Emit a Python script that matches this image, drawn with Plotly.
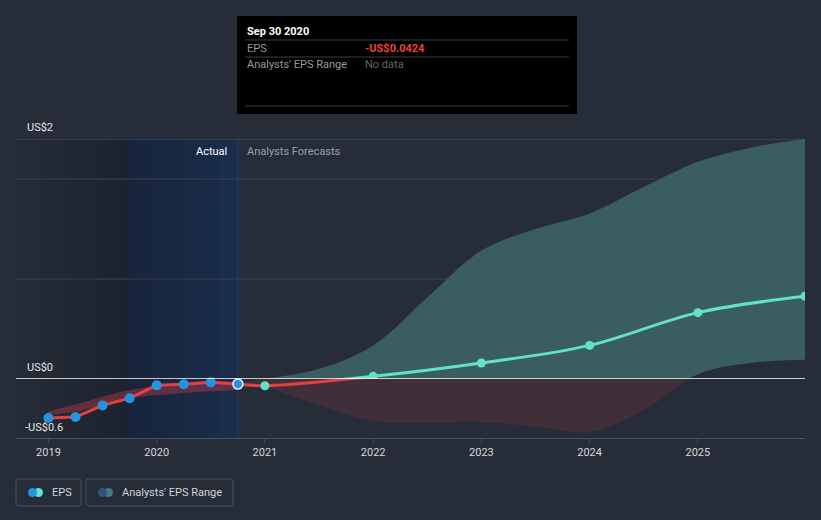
import plotly.graph_objects as go
from plotly.subplots import make_subplots

# ---------------- data ----------------
actual_x = [2019.0, 2019.25, 2019.5, 2019.75, 2020.0, 2020.25, 2020.5, 2020.75]
actual_eps = [-0.325, -0.317, -0.22, -0.16, -0.053, -0.044, -0.028, -0.0424]

fc_x = [2020.75, 2021.0, 2022.0, 2023.0, 2024.0, 2025.0, 2025.99]
fc_eps = [-0.0424, -0.056, 0.022, 0.133, 0.28, 0.553, 0.69]

act_band_x = [2019.0, 2019.3, 2019.75, 2020.2, 2020.75]
act_band_hi = [-0.27, -0.20, -0.092, -0.042, -0.023]
act_band_lo = [-0.30, -0.265, -0.16, -0.12, -0.092]

band_x = [2020.75, 2021.0, 2021.5, 2022.0, 2022.5, 2023.0, 2023.5, 2024.0, 2024.5, 2025.0, 2025.5, 2025.99]
band_hi = [-0.035, 0.0, 0.085, 0.28, 0.68, 1.07, 1.25, 1.38, 1.6, 1.81, 1.93, 2.0]
band_lo = [-0.035, -0.07, -0.22, -0.35, -0.365, -0.36, -0.395, -0.44, -0.26, 0.04, 0.135, 0.16]

year_ticks = [2019, 2020, 2021, 2022, 2023, 2024, 2025]

# ---------------- style ----------------
BG = "#262c38"
RED = "#e5403f"
TEAL = "#62e3c9"
BLUE = "#2394e0"
TEAL_FILL = "#3a5d62"
RED_FILL = "#402f39"
FONT = "Roboto"

W, H = 821, 520
L, R, T, B = 16, 16, 139, 82
PW, PH = W - L - R, H - T - B
XMIN, XMAX = 2018.70, 2025.99
Y_BOT = -59 / 120.0


def px(xp):
    return (xp - L) / PW


def py(yp):
    return (H - B - yp) / PH


fig = make_subplots(rows=2, cols=1, shared_xaxes=True, vertical_spacing=0,
                    row_heights=[240, 59])

# -------- bands (both sign halves via two clipped subplots) --------
for row, fillc in ((1, TEAL_FILL), (2, RED_FILL)):
    fig.add_trace(go.Scatter(x=band_x, y=band_lo, mode="lines", line=dict(width=0, shape="spline"),
                             showlegend=False, hoverinfo="skip"), row=row, col=1)
    fig.add_trace(go.Scatter(x=band_x, y=band_hi, mode="lines", line=dict(width=0, shape="spline"),
                             fill="tonexty", fillcolor=fillc, showlegend=False, hoverinfo="skip"),
                  row=row, col=1)

# actual-period range band
fig.add_trace(go.Scatter(x=act_band_x, y=act_band_lo, mode="lines", line=dict(width=0, shape="spline"),
                         showlegend=False, hoverinfo="skip"), row=2, col=1)
fig.add_trace(go.Scatter(x=act_band_x, y=act_band_hi, mode="lines", line=dict(width=0, shape="spline"),
                         fill="tonexty", fillcolor="rgba(215,60,75,0.38)", showlegend=False,
                         hoverinfo="skip"), row=2, col=1)

# -------- EPS lines --------
fig.add_trace(go.Scatter(x=actual_x, y=actual_eps, mode="lines", line=dict(color=RED, width=3),
                         showlegend=False, hoverinfo="skip"), row=2, col=1)
fig.add_trace(go.Scatter(x=fc_x, y=fc_eps, mode="lines", line=dict(color=RED, width=3, shape="spline"),
                         showlegend=False, hoverinfo="skip"), row=2, col=1)
fig.add_trace(go.Scatter(x=fc_x, y=fc_eps, mode="lines", line=dict(color=TEAL, width=3, shape="spline"),
                         showlegend=False, hoverinfo="skip"), row=1, col=1)

# -------- markers --------
fig.add_trace(go.Scatter(x=actual_x[:-1], y=actual_eps[:-1], mode="markers",
                         marker=dict(color=BLUE, size=10), cliponaxis=False,
                         showlegend=False, hoverinfo="skip"), row=2, col=1)
fig.add_trace(go.Scatter(x=actual_x[-1:], y=actual_eps[-1:], mode="markers",
                         marker=dict(color=BLUE, size=10, line=dict(color="#e8eef8", width=1.5)),
                         cliponaxis=False, showlegend=False, hoverinfo="skip"), row=2, col=1)
fig.add_trace(go.Scatter(x=fc_x[1:2], y=fc_eps[1:2], mode="markers",
                         marker=dict(color=TEAL, size=9), cliponaxis=False,
                         showlegend=False, hoverinfo="skip"), row=2, col=1)
fig.add_trace(go.Scatter(x=fc_x[2:-1], y=fc_eps[2:-1], mode="markers",
                         marker=dict(color=TEAL, size=9), cliponaxis=False,
                         showlegend=False, hoverinfo="skip"), row=1, col=1)
fig.add_trace(go.Scatter(x=fc_x[-1:], y=fc_eps[-1:], mode="markers",
                         marker=dict(color=TEAL, size=9), cliponaxis=True,
                         showlegend=False, hoverinfo="skip"), row=1, col=1)

shapes = []
# past gradient
steps = 10
for i in range(steps):
    x0 = XMIN + (2019.75 - XMIN) * (i / steps)
    shapes.append(dict(type="rect", xref="x", yref="paper", x0=x0, x1=2019.75, y0=0, y1=1,
                       fillcolor="rgba(0,0,0,0.014)", line_width=0, layer="below"))
# actual blue region gradient
bcols = ["#18253e", "#18273f", "#182841", "#192a44", "#1a2b47", "#1a2d4a"]
for i, c in enumerate(bcols):
    x0 = 2019.75 + i / len(bcols)
    shapes.append(dict(type="rect", xref="x", yref="paper", x0=x0, x1=x0 + 1.0 / len(bcols) + 0.002,
                       y0=0, y1=1, fillcolor=c, line_width=0, layer="below"))
shapes.append(dict(type="line", xref="x", yref="paper", x0=2020.75, x1=2020.75, y0=0, y1=1,
                   line=dict(color="#1f3d6b", width=1), layer="below"))
# gridlines
for gv, gc in ((0.8333, "#3a404c"), (1.6667, "#3a404c"), (2.0, "#4c525e")):
    shapes.append(dict(type="line", xref="paper", yref="y", x0=0, x1=1, y0=gv, y1=gv,
                       line=dict(color=gc, width=1), layer="below"))
# zero line
shapes.append(dict(type="line", xref="paper", yref="y", x0=0, x1=1, y0=0, y1=0,
                   line=dict(color="#ffffff", width=1.5), layer="above"))

# tooltip
shapes.append(dict(type="rect", xref="paper", yref="paper", x0=px(237), x1=px(577), y0=py(114), y1=py(16),
                   fillcolor="#000000", line_width=0, layer="above"))
for yl in (40, 57, 106):
    shapes.append(dict(type="line", xref="paper", yref="paper", x0=px(245), x1=px(569), y0=py(yl), y1=py(yl),
                       line=dict(color="#3c3c3c", width=1), layer="above"))


def rrect(x0, y0, x1, y1, r=3):
    X0, X1 = px(x0), px(x1)
    Y0, Y1 = py(y0), py(y1)
    rx, ry = r / PW, r / PH
    return (f"M {X0+rx},{Y0} L {X1-rx},{Y0} Q {X1},{Y0} {X1},{Y0-ry} L {X1},{Y1+ry} "
            f"Q {X1},{Y1} {X1-rx},{Y1} L {X0+rx},{Y1} Q {X0},{Y1} {X0},{Y1+ry} L {X0},{Y0-ry} "
            f"Q {X0},{Y0} {X0+rx},{Y0} Z")


for (a, b) in ((16, 81), (86, 233)):
    shapes.append(dict(type="path", xref="paper", yref="paper", path=rrect(a, 479, b, 506),
                       line=dict(color="#4a505c", width=1), fillcolor="rgba(0,0,0,0)"))


def circ(cx, cy, r, color):
    return dict(type="circle", xref="paper", yref="paper", x0=px(cx - r), x1=px(cx + r),
                y0=py(cy + r), y1=py(cy - r), fillcolor=color, line_width=0)


shapes += [circ(38.5, 492.5, 4.5, "#62e3c9"), circ(32.5, 492.5, 4.5, "#2394e0"),
           circ(108.5, 492.5, 4.5, "#3f7f80"), circ(102.5, 492.5, 4.5, "#2c5a7c")]

ann = []


def text(xp, yp, s, color, size=11, anchor="left", bold=False):
    ann.append(dict(xref="paper", yref="paper", x=px(xp), y=py(yp), text=f"<b>{s}</b>" if bold else s,
                    showarrow=False, xanchor=anchor, yanchor="middle",
                    font=dict(family=FONT, size=size, color=color)))


text(25, 127, "US$2", "#e6e6e6")
text(25, 367, "US$0", "#e6e6e6")
text(23, 427, "-US$0.6", "#e6e6e6")
text(229, 151, "Actual", "#ffffff", anchor="right")
text(245, 151, "Analysts Forecasts", "#9aa0a8")
text(245, 31, "Sep 30 2020", "#ffffff", bold=True)
text(245, 48, "EPS", "#9a9a9a")
text(363, 48, "-US$0.0424", "#f0403c", bold=True)
text(245, 65, "Analysts' EPS Range", "#9a9a9a")
text(363, 65, "No data", "#666666")
text(50, 492.5, "EPS", "#d0d4da")
text(120, 492.5, "Analysts' EPS Range", "#d0d4da")

fig.update_layout(
    width=W, height=H, margin=dict(l=L, r=R, t=T, b=B),
    paper_bgcolor=BG, plot_bgcolor=BG, showlegend=False,
    shapes=shapes, annotations=ann, font=dict(family=FONT),
)
fig.update_xaxes(range=[XMIN, XMAX], showgrid=False, zeroline=False)
fig.update_xaxes(showticklabels=False, showline=False, ticks="", row=1, col=1)
fig.update_xaxes(tickvals=year_ticks, ticktext=[str(v) for v in year_ticks], showline=True,
                 linecolor="#4a505c", linewidth=1, ticks="outside", ticklen=4, tickcolor="#4a505c",
                 tickfont=dict(family=FONT, size=11, color="#d8d8d8"), row=2, col=1)
fig.update_yaxes(range=[0, 2.0], showgrid=False, zeroline=False, showticklabels=False, row=1, col=1)
fig.update_yaxes(range=[Y_BOT, 0], showgrid=False, zeroline=False, showticklabels=False, row=2, col=1)

fig.write_html("out.html")
